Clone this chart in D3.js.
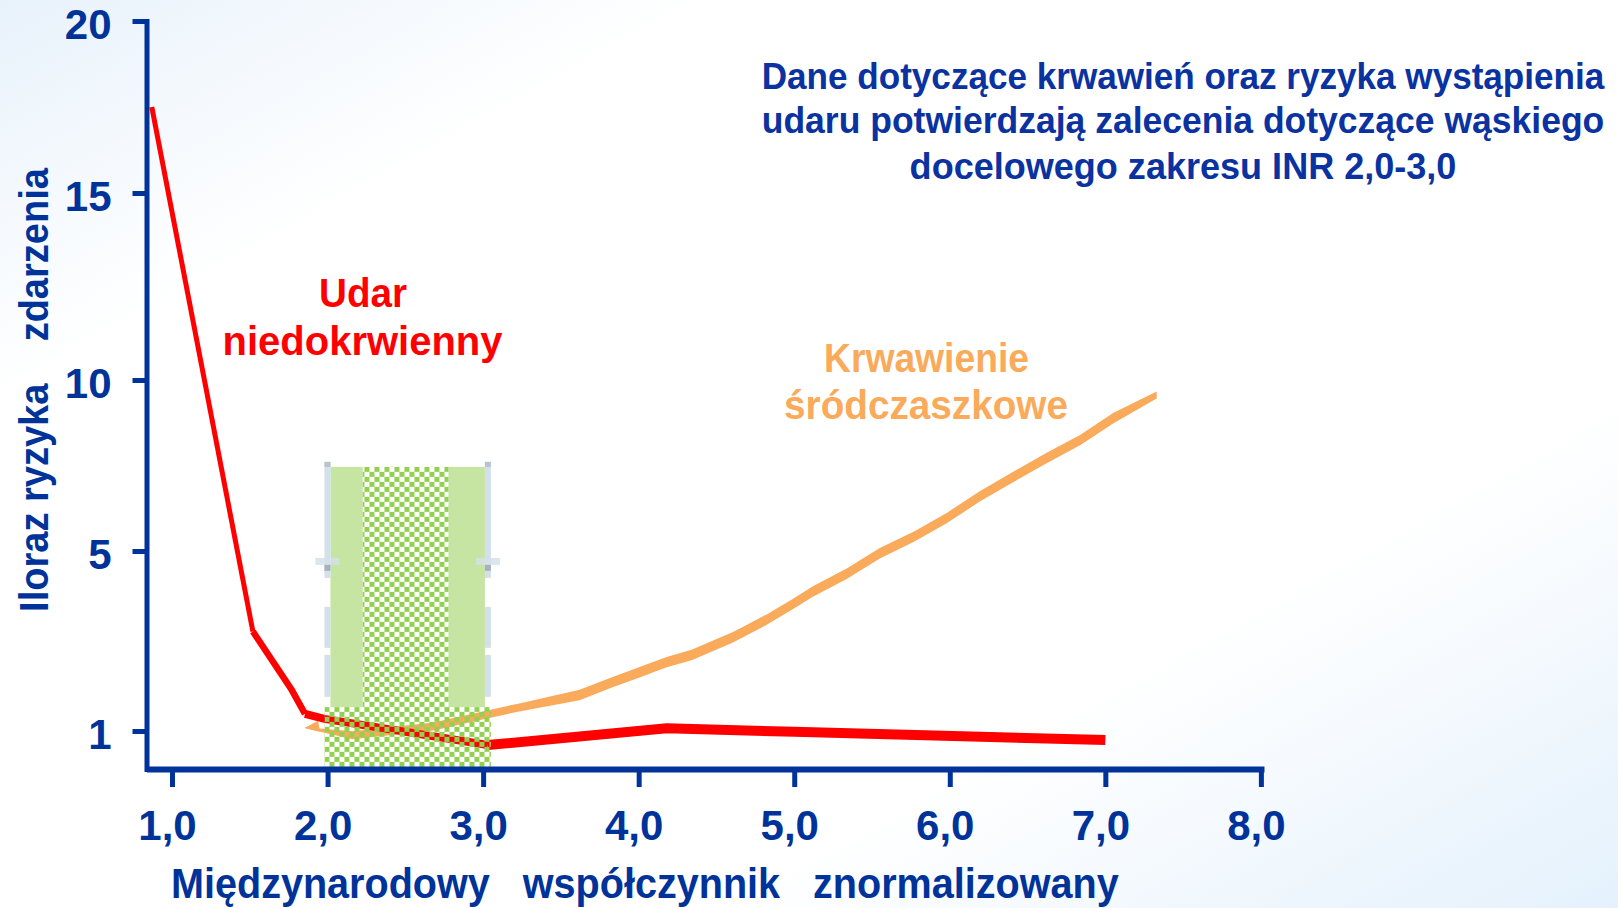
<!DOCTYPE html>
<html lang="pl">
<head>
<meta charset="utf-8">
<title>INR – udar i krwawienie</title>
<script src="https://cdn.jsdelivr.net/npm/d3@7"></script>
<style>
  html, body { margin: 0; padding: 0; background: #fff; }
  svg { display: block; }
  text { font-family: "Liberation Sans", Arial, sans-serif; font-weight: bold; }
</style>
</head>
<body>
<svg id="chart" width="1618" height="908"></svg>
<script>
// ---- axis ticks ----
const inrTicks = [1, 2, 3, 4, 5, 6, 7, 8];
const inrTickLabels = ["1,0", "2,0", "3,0", "4,0", "5,0", "6,0", "7,0", "8,0"];
const oddsTicks = [1, 5, 10, 15, 20];
const oddsTickLabels = ["1", "5", "10", "15", "20"];

// ---- ischaemic stroke (odds ratio vs INR) ----
const strokeInr  = [0.87, 1.52, 1.77, 1.855, 1.98, 3.03, 4.18, 5.0, 7.0];
const strokeOdds = [17.5, 3.21, 1.91, 1.38, 1.27, 0.63, 1.06, 0.98, 0.76];

// ---- intracranial bleeding (odds ratio vs INR) ----
const bleedInr  = [1.855, 2.16, 2.68, 3.04, 3.24, 3.62, 3.82, 4.01, 4.18, 4.34, 4.61, 4.82,
                   4.99, 5.12, 5.34, 5.55, 5.77, 5.98, 6.19, 6.41, 6.62, 6.84, 7.05, 7.33];
const bleedOdds = [1.07, 0.89, 1.10, 1.38, 1.53, 1.80, 2.07, 2.31, 2.53, 2.69, 3.09, 3.47,
                   3.82, 4.10, 4.50, 4.95, 5.42, 5.96, 6.59, 7.17, 7.71, 8.25, 8.88, 9.56];

// ---- target INR range ----
const targetInr = [1.98, 3.05];
const targetTopOdds = 7.46;
const targetBandFloorOdds = 1.53;

// ---- texts ----
const titleLines = [
  "Dane dotyczące krwawień oraz ryzyka wystąpienia",
  "udaru potwierdzają zalecenia dotyczące wąskiego",
  "docelowego zakresu INR 2,0-3,0"
];
const strokeLabel = ["Udar", "niedokrwienny"];
const bleedLabel = ["Krwawienie", "śródczaszkowe"];
const xTitle = "Międzynarodowy   współczynnik   znormalizowany";
const yTitle = "Iloraz ryzyka    zdarzenia";

// ---- colours ----
const AXIS = "#003399";
const TITLE = "#0a32a0";
const RED = "#ff0000";
const ORANGE = "#f9aa5b";
const GREEN = "#92d050";
const LIGHT_GREEN = "#c6e4a2";
const GHOST = "#d3e0ea";

const svg = d3.select("#chart");
const W = 1618, H = 908;

// background wash
const defs = svg.append("defs");
const bg = defs.append("linearGradient").attr("id", "bg")
  .attr("x1", 0).attr("y1", 0).attr("x2", 1).attr("y2", 1);
bg.append("stop").attr("offset", "0%").attr("stop-color", "#e8f2fb");
bg.append("stop").attr("offset", "22%").attr("stop-color", "#ffffff");
bg.append("stop").attr("offset", "72%").attr("stop-color", "#ffffff");
bg.append("stop").attr("offset", "100%").attr("stop-color", "#e4f1fc");
svg.append("rect").attr("width", W).attr("height", H).attr("fill", "url(#bg)");

// scales
const x = d3.scaleLinear().domain([0.836, 8.02]).range([146.5, 1264]);
// hand-spaced odds-ratio axis
const y = d3.scaleLinear().domain([0, 1, 5, 10, 15, 20]).range([769, 731, 551, 380, 193, 21]);

// ---- bleeding band ----
const bleedPts = bleedInr.map((v, i) => ({ inr: v, odds: bleedOdds[i], i }));
const halfWidth = p => p.i === 0 ? 0.5 : (p.i === bleedPts.length - 1 ? 3.5 : (p.inr < 3.3 ? 4 : 5.2));
const bleedArea = d3.area()
  .x(p => x(p.inr))
  .y0(p => y(p.odds) - halfWidth(p))
  .y1(p => y(p.odds) + halfWidth(p));
svg.append("path").datum(bleedPts).attr("d", bleedArea).attr("fill", ORANGE);
// wedge at the start of the band
const p0 = bleedPts[0];
const wx = x(p0.inr), wy = y(p0.odds);
svg.append("path")
  .attr("d", `M${wx},${wy}L${wx + 13},${wy - 7}L${wx + 15},${wy + 4}Z`)
  .attr("fill", ORANGE);

// ---- stroke line (gets heavier to the right) ----
const strokePts = strokeInr.map((v, i) => ({ inr: v, odds: strokeOdds[i] }));
const line = d3.line().x(p => x(p.inr)).y(p => y(p.odds));
const strokePieces = [[0, 1, 5], [1, 3, 6.5], [3, 5, 8], [5, 8, 10]];
strokePieces.forEach(([a, b, w]) => {
  svg.append("path").datum(strokePts.slice(a, b + 1))
    .attr("d", line).attr("fill", "none")
    .attr("stroke", RED).attr("stroke-width", w)
    .attr("stroke-linejoin", "miter").attr("stroke-linecap", "butt");
});

// ---- target range box ----
const bx0 = x(targetInr[0]), bx1 = x(targetInr[1]);
const by0 = y(targetTopOdds), by1 = y(0), byBand = y(targetBandFloorOdds);
const bw = bx1 - bx0;

const checker = defs.append("pattern").attr("id", "checker")
  .attr("patternUnits", "userSpaceOnUse").attr("width", 10).attr("height", 10)
  .attr("patternTransform", `translate(${bx0},${by0})`);
checker.append("rect").attr("width", 5).attr("height", 5).attr("fill", GREEN);
checker.append("rect").attr("x", 5).attr("y", 5).attr("width", 5).attr("height", 5).attr("fill", GREEN);

const box = svg.append("g");
// side bands of solid light green
[[0.036, 0.23], [0.745, 0.964]].forEach(([f0, f1]) => {
  box.append("rect").attr("x", bx0 + f0 * bw).attr("y", by0)
    .attr("width", (f1 - f0) * bw).attr("height", byBand - by0).attr("fill", LIGHT_GREEN);
});
// chequered centre strip and chequered floor across the whole range
box.append("rect").attr("x", bx0 + 0.23 * bw).attr("y", by0)
  .attr("width", 0.515 * bw).attr("height", byBand - by0).attr("fill", "url(#checker)");
box.append("rect").attr("x", bx0).attr("y", byBand)
  .attr("width", bw).attr("height", by1 - byBand).attr("fill", "url(#checker)");
// faint edge markers
[bx0, bx1 - 6].forEach(sx => {
  [[-5, 111], [140, 181], [188, 230]].forEach(([t0, t1]) => {
    box.append("rect").attr("x", sx).attr("y", by0 + t0).attr("width", 6).attr("height", t1 - t0)
      .attr("fill", GHOST);
  });
  box.append("rect").attr("x", sx).attr("y", by0 - 5).attr("width", 6).attr("height", 5).attr("fill", "#b9c3cc");
  box.append("rect").attr("x", sx - 9).attr("y", by0 + 91).attr("width", 24).attr("height", 7)
    .attr("fill", GHOST).attr("opacity", 0.85);
  box.append("rect").attr("x", sx).attr("y", by0 + 98).attr("width", 6).attr("height", 6).attr("fill", "#a7b1ba");
});

// ---- axes ----
const xAxis = d3.axisBottom(x).tickValues(inrTicks)
  .tickFormat((d, i) => inrTickLabels[i])
  .tickSizeInner(18).tickSizeOuter(0).tickPadding(23);
const gx = svg.append("g").attr("transform", `translate(0,${y(0)})`).call(xAxis);
gx.select(".domain").attr("stroke", AXIS).attr("stroke-width", 6);
gx.selectAll(".tick line").attr("stroke", AXIS).attr("stroke-width", 5);
gx.selectAll(".tick text").attr("fill", AXIS).attr("dx", -5)
  .style("font-size", "42px").style("font-family", "'Liberation Sans', Arial, sans-serif").style("font-weight", "bold");

const yAxis = d3.axisLeft(y).tickValues(oddsTicks)
  .tickFormat((d, i) => oddsTickLabels[i])
  .tickSizeInner(14).tickSizeOuter(0).tickPadding(21);
const gy = svg.append("g").attr("transform", `translate(${x.range()[0]},0)`).call(yAxis);
gy.select(".domain").attr("stroke", AXIS).attr("stroke-width", 5).attr("stroke-linecap", "square");
gy.selectAll(".tick line").attr("stroke", AXIS).attr("stroke-width", 5);
gy.selectAll(".tick text").attr("fill", AXIS).attr("dy", "0.42em")
  .style("font-size", "42px").style("font-family", "'Liberation Sans', Arial, sans-serif").style("font-weight", "bold");

// Condensed text: rendered at full height, then squeezed horizontally to a set width.
function condensed(str, cx, cy, width, size, fill, anchor, angle) {
  const t = svg.append("text").text(str)
    .attr("x", 0).attr("y", 0)
    .attr("text-anchor", anchor || "middle")
    .style("white-space", "pre")
    .style("font-size", size + "px")
    .attr("fill", fill);
  const natural = t.node().getComputedTextLength();
  const k = width / natural;
  t.attr("transform", `translate(${cx},${cy}) rotate(${angle || 0}) scale(${k},1)`);
  return t;
}

// ---- axis titles ----
condensed(xTitle, 171, 898, 948, 43, AXIS, "start");
condensed(yTitle, 48, 390, 444, 40, AXIS, "middle", -90);

// ---- headline ----
const titleBase = [89, 133, 179];
const titleLen = [843, 843, 547];
titleLines.forEach((t, i) => condensed(t, 1183, titleBase[i], titleLen[i], 37, TITLE));

// ---- series labels ----
const strokeLabelPos = [[363, 307, 88], [362.5, 355, 280]];
strokeLabel.forEach((t, i) => {
  const [lx, ly, len] = strokeLabelPos[i];
  condensed(t, lx, ly, len, 40, RED);
});
const bleedLabelPos = [[926.5, 372, 205], [926, 419, 284]];
bleedLabel.forEach((t, i) => {
  const [lx, ly, len] = bleedLabelPos[i];
  condensed(t, lx, ly, len, 40, ORANGE);
});
</script>
</body>
</html>
